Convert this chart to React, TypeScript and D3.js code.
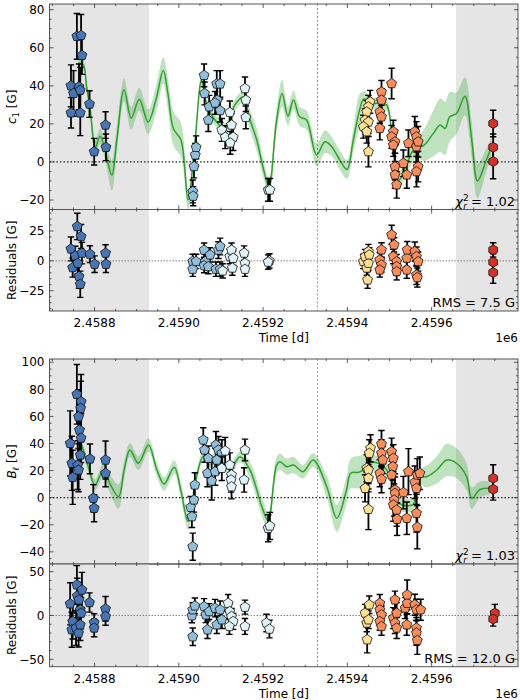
import React from 'react';
import * as d3 from 'd3';

type Pt = [number, number, number]; // [time (JD), value, error]
type CurvePt = [number, number, number]; // [time, mean, half-width]

// ---- axis setup ----
const T_MIN = 2458693;
const T_MAX = 2459805;
const SPAN_LEFT = [2458693, 2458929];
const SPAN_RIGHT = [2459658, 2459805];
const V_LINE = 2459329;
const X_TICKS = [2458800, 2459000, 2459200, 2459400, 2459600];

const COLORS = ['#4575b4', '#91bfdb', '#e0f3f8', '#fee090', '#fc8d59', '#d73027'];
const SHAPES = ['pent', 'pent', 'pent', 'pent', 'pent', 'hex'];

// ---- c1 ----
const c1Dark: Pt[] = [
  [2458744, 40, 11], [2458750, 36, 12], [2458763, 39.5, 12], [2458766, 37.7, 12],
  [2458758, 66, 12], [2458768, 66.5, 11], [2458770, 56, 10],
  [2458744, 25.8, 8], [2458766, 25.8, 12], [2458788, 30.4, 7],
  [2458799, 5.4, 7], [2458826, 19.4, 7], [2458827, 7.7, 7],
];
const c1Light: Pt[] = [
  [2459033, -15.5, 6], [2459034, -18, 5], [2459036, -2.4, 6], [2459039, 3.7, 6], [2459041, 7.7, 6],
  [2459060, 45.5, 6], [2459061, 36, 6], [2459072, 29, 6], [2459070, 22, 6],
  [2459090, 41, 7], [2459098, 41, 7], [2459091, 32.5, 7], [2459086, 31, 6], [2459098, 27, 6],
];
const c1Pale: Pt[] = [
  [2459102, 16.8, 6], [2459110, 13, 6], [2459121, 26, 6], [2459125, 19.4, 6], [2459129, 13, 7],
  [2459122, 10, 6], [2459157, 38.6, 6], [2459159, 32.5, 6], [2459159, 23.4, 6],
  [2459212, -14.7, 6], [2459216, -14.7, 6],
];
const c1Yellow: Pt[] = [
  [2459454, 31.6, 6], [2459450, 29, 6], [2459446, 26.3, 6], [2459442, 22, 6],
  [2459450, 21, 6], [2459438, 18.5, 6], [2459446, 15.9, 6], [2459450, 5.4, 8],
];
const c1Orange: Pt[] = [
  [2459481, 36.8, 6], [2459481, 32.5, 6], [2459477, 26.3, 6], [2459481, 23.7, 6], [2459477, 17.6, 6],
  [2459505, 41.2, 8], [2459509, 15.9, 6], [2459505, 13.2, 6], [2459513, 10.6, 6], [2459509, 8.9, 6],
  [2459513, -2.5, 7], [2459513, -6.8, 7], [2459517, -12, 7], [2459533, -0.7, 7], [2459541, -6.8, 7],
  [2459545, 9.8, 7], [2459560, 15.9, 8], [2459564, 13.2, 8], [2459564, 8, 8], [2459568, -2.5, 8],
  [2459564, -5.1, 8], [2459568, 10.6, 8],
];
const c1Red: Pt[] = [[2459746, 20.2, 7], [2459746, 7.7, 7], [2459746, 0.2, 9]];

const c1Model: CurvePt[] = [
  [2458761, 52, 3], [2458773, 51, 3], [2458781, 39.4, 3], [2458789, 29, 3], [2458797, 11.5, 4],
  [2458801, 7, 4], [2458813, 13.5, 4], [2458825, 6, 5], [2458841, -7, 8], [2458853, 12, 7],
  [2458870, 38, 6], [2458887, 23, 6], [2458906, 33, 6], [2458927, 21, 6.5], [2458946, 33, 7],
  [2458963, 48, 7], [2458974, 36, 8], [2458987, 17.6, 9], [2459005, 11.5, 9], [2459022, -20, 5],
  [2459038, 10, 3], [2459054, 43, 3], [2459066, 30, 3], [2459086, 22, 3], [2459110, 17.6, 3],
  [2459133, 30, 3], [2459152, 34, 3], [2459169, 22, 5], [2459185, 11.5, 6], [2459200, -3, 5],
  [2459214, -13, 4], [2459231, 20, 6], [2459245, 36, 7], [2459259, 24, 5], [2459272, 32.5, 5],
  [2459287, 23.7, 5], [2459303, 22, 5], [2459327, 3.7, 6], [2459347, 10.6, 6], [2459363, 8, 5],
  [2459382, 1, 5], [2459399, -4, 5], [2459414, 11.5, 6], [2459430, 28, 8], [2459439, 33, 4],
  [2459461, 30.7, 3], [2459477, 31, 3], [2459493, 30, 3], [2459505, 15, 3], [2459513, -2, 3],
  [2459521, -10, 4], [2459541, -1, 5], [2459553, 5, 6], [2459564, 8, 5], [2459580, 8.5, 8],
  [2459604, 15, 12], [2459620, 19.4, 14], [2459632, 17.6, 14], [2459643, 23.7, 13], [2459659, 25.5, 11],
  [2459679, 34.5, 10], [2459695, 12, 9], [2459709, -10, 9], [2459730, 1, 6], [2459742, 8, 5],
];

// ---- c1 residuals ----
const r1Dark: Pt[] = [
  [2458744, 10, 10], [2458748, -5.6, 8], [2458754, 4.2, 8], [2458759, 28.8, 11], [2458760, -2, 9],
  [2458763, -13, 10], [2458766, -19.6, 11], [2458768, 20.4, 10], [2458770, 6.5, 9], [2458789, 5.6, 7],
  [2458800, -2.8, 7], [2458826, 6.5, 7], [2458827, -2.8, 7],
];
const r1Light: Pt[] = [
  [2459033, -0.5, 6], [2459033, -7, 6], [2459041, -0.5, 6], [2459060, 9, 6], [2459063, -0.5, 6],
  [2459060, -4, 6], [2459074, 5, 6], [2459070, -4.8, 6], [2459094, 9, 7], [2459098, 12, 7],
  [2459088, -7, 6], [2459098, -7, 6],
];
const r1Pale: Pt[] = [
  [2459104, -8.4, 6], [2459121, 3.6, 6], [2459125, 9, 6], [2459127, -6, 6], [2459129, 2.2, 6],
  [2459155, 6.5, 6], [2459157, -2, 6], [2459157, -7, 6], [2459215, 0, 6], [2459212, -1, 6],
];
const r1Yellow: Pt[] = [
  [2459438, -0.5, 6], [2459442, 3.6, 6], [2459450, 7.8, 6], [2459446, -6, 6], [2459450, -2, 6],
  [2459448, -16, 7], [2459452, 5, 6],
];
const r1Orange: Pt[] = [
  [2459481, 9.2, 6], [2459477, 0.8, 6], [2459481, -3.4, 6], [2459477, -7.6, 6], [2459505, 21.8, 8],
  [2459511, 13.4, 6], [2459509, 3.6, 6], [2459517, -0.6, 6], [2459517, -4.8, 7], [2459517, -9, 7],
  [2459541, 2.3, 7], [2459542, 9.2, 7], [2459541, -7.6, 7], [2459560, 7.8, 8], [2459564, 3.6, 8],
  [2459568, -0.6, 8], [2459564, -11.8, 8], [2459566, -14, 8],
];
const r1Red: Pt[] = [[2459746, 9.2, 6], [2459746, -1.1, 7], [2459746, -9.8, 9]];

// ---- B_l ----
const blDark: Pt[] = [
  [2458758, 76.3, 22], [2458768, 70.9, 20], [2458767, 66, 20], [2458762, 59.8, 20], [2458764, 50, 20],
  [2458768, 44, 18], [2458742, 40.1, 24], [2458746, 25.4, 20], [2458760, 24, 18], [2458762, 20.4, 16],
  [2458766, 31.5, 18], [2458748, 15, 20], [2458789, 28.6, 11], [2458797, -0.4, 10], [2458799, -7.8, 10],
  [2458826, 27.8, 14], [2458826, 18, 10],
];
const blLight: Pt[] = [
  [2459033, -36.2, 10], [2459031, -14, 8], [2459028, -7.1, 8], [2459036, -1.7, 9], [2459038, 9.4, 9],
  [2459058, 42.6, 9], [2459061, 35.2, 9], [2459070, 29.1, 9], [2459068, 18, 10], [2459078, 12.3, 14],
  [2459088, 38.9, 10], [2459094, 35.2, 10], [2459102, 32.8, 10], [2459090, 27.8, 10], [2459086, 19.2, 10],
];
const blPale: Pt[] = [
  [2459110, 34.5, 10], [2459102, 21.7, 9], [2459121, 24.1, 9], [2459125, 16.8, 9], [2459124, 13.1, 9],
  [2459125, 8.1, 9], [2459157, 35.2, 8], [2459155, 13.1, 9], [2459212, -22.6, 10], [2459216, -20.9, 10],
];
const blYellow: Pt[] = [
  [2459455, 36.5, 10], [2459452, 32.8, 10], [2459446, 21.7, 10], [2459450, 20.4, 10],
  [2459450, 14.3, 10], [2459442, 6.9, 10], [2459450, -8.6, 15],
];
const blOrange: Pt[] = [
  [2459481, 39.6, 10], [2459481, 32.8, 10], [2459484, 27.8, 10], [2459477, 18, 10], [2459481, 13.6, 10],
  [2459505, 34, 10], [2459509, 29.1, 10], [2459508, 22.9, 10], [2459505, 16.8, 10], [2459513, 5.7, 12],
  [2459513, 3.2, 12], [2459511, -1.7, 12], [2459509, -5.4, 12], [2459517, -9.1, 12], [2459518, -15.9, 12],
  [2459533, 3.7, 12], [2459541, -15.2, 12], [2459545, 19.2, 17], [2459560, 11.4, 12], [2459566, 16.8, 12],
  [2459572, 18, 12], [2459564, 6.9, 12], [2459564, -11.5, 14], [2459566, -21.8, 16],
];
const blRed: Pt[] = [[2459746, 14.3, 10], [2459746, 6.2, 8]];

const blModel: CurvePt[] = [
  [2458766, 42.6, 4], [2458785, 23, 4], [2458801, 9.4, 4], [2458821, 20.4, 5], [2458837, 10, 7],
  [2458857, 0.7, 9], [2458870, 20, 7], [2458884, 35.2, 5], [2458904, 25.4, 5], [2458928, 38.9, 5],
  [2458948, 20.4, 5], [2458965, 10.1, 5], [2458989, 22.4, 5], [2459005, 5, 6], [2459022, -17.7, 6],
  [2459042, 15.5, 4], [2459058, 30.3, 4], [2459074, 27, 4], [2459090, 30.3, 4], [2459105, 26, 4],
  [2459121, 20.4, 4], [2459145, 30.3, 4], [2459169, 20.4, 6], [2459197, -6.6, 7], [2459212, -17, 6],
  [2459232, 24, 6], [2459240, 26.6, 6], [2459256, 22.9, 6], [2459272, 24.1, 6], [2459295, 19.2, 5],
  [2459319, 27.8, 5], [2459351, 8.1, 8], [2459375, -15.2, 10], [2459398, 5.7, 10], [2459408, 18, 11],
  [2459430, 19, 12], [2459458, 26, 6], [2459489, 22, 5], [2459508, 12, 5], [2459522, -4, 5],
  [2459556, -5, 5], [2459567, 15.5, 5], [2459588, 15.5, 8], [2459612, 20.4, 10], [2459636, 27.8, 12],
  [2459659, 25.4, 11], [2459683, 15.5, 10], [2459695, -0.4, 8], [2459715, 6, 6], [2459738, 6.9, 5],
];

// ---- B_l residuals ----
const r2Dark: Pt[] = [
  [2458742, 13.3, 24], [2458748, -6.8, 20], [2458746, -16.3, 20], [2458758, 34.9, 22], [2458759, 22.4, 20],
  [2458763, 17.8, 20], [2458766, 6.5, 18], [2458770, 29.2, 20], [2458768, 2.7, 18], [2458756, -14.3, 20],
  [2458762, -20, 16], [2458766, -10.6, 18], [2458788, 14.8, 11], [2458799, -8, 10], [2458799, -14.3, 10],
  [2458826, 7.6, 14], [2458826, -1.1, 10],
];
const r2Light: Pt[] = [
  [2459033, -24.2, 10], [2459031, -0.3, 8], [2459033, 6.5, 8], [2459038, 11, 9], [2459060, 10.2, 9],
  [2459064, 0.8, 9], [2459068, -16.3, 10], [2459072, 4.5, 9], [2459086, 8.4, 10], [2459090, -10.6, 10],
  [2459098, 6.5, 10], [2459102, -4.9, 10],
];
const r2Pale: Pt[] = [
  [2459117, 14, 10], [2459121, 4.5, 9], [2459125, -1.1, 9], [2459129, -6.8, 9], [2459120, -12.5, 9],
  [2459157, 9.5, 8], [2459157, -12.5, 9], [2459208, -8.6, 10], [2459215, -15.5, 10],
];
const r2Yellow: Pt[] = [
  [2459442, 2.7, 10], [2459452, 12.2, 10], [2459446, -8.6, 10], [2459450, -4.9, 10], [2459447, -27.6, 15],
];
const r2Orange: Pt[] = [
  [2459477, 14, 10], [2459477, 6.5, 10], [2459481, 0.8, 10], [2459477, -6.8, 10], [2459481, -12.5, 10],
  [2459513, 17.8, 10], [2459509, -3, 12], [2459517, 2.7, 12], [2459513, -8.6, 12], [2459517, -14.3, 12],
  [2459537, 8.4, 12], [2459542, 14, 12], [2459541, -10.6, 12], [2459542, 23.5, 17], [2459560, 12.2, 12],
  [2459564, 6.5, 12], [2459574, 6.5, 12], [2459564, -14.3, 12], [2459564, -20, 14], [2459566, -28.4, 16],
];
const r2Red: Pt[] = [[2459750, 2.7, 10], [2459746, -4.1, 8]];

// ---- layout ----
const W = 520;
const H = 700;
const L = 49.5;
const R = 518;
const FONT = 'DejaVu Sans, sans-serif';

function polygon(n: number, r: number) {
  const pts = d3.range(n).map(i => {
    const a = -Math.PI / 2 + (i * 2 * Math.PI) / n;
    return [r * Math.cos(a), r * Math.sin(a)];
  });
  return 'M' + pts.map(p => p[0].toFixed(2) + ',' + p[1].toFixed(2)).join('L') + 'Z';
}
const PENT = polygon(5, 5.2);
const HEX = polygon(6, 5);

const fmt = (d: number) => (d < 0 ? '\u2212' + Math.abs(d) : String(d));

function Panel(props: any) {
  const { id, top, bottom, yDomain, yTicks, yMinor, series, model, residual, xLabels, ylabel, note } = props;
  const x = d3.scaleLinear().domain([T_MIN, T_MAX]).range([L, R]);
  const y = d3.scaleLinear().domain(yDomain).range([bottom, top]);

  const area = d3.area<CurvePt>()
    .x(d => x(d[0]))
    .y0(d => y(d[1] - d[2]))
    .y1(d => y(d[1] + d[2]))
    .curve(d3.curveCatmullRom.alpha(0.5));
  const line = d3.line<CurvePt>()
    .x(d => x(d[0]))
    .y(d => y(d[1]))
    .curve(d3.curveCatmullRom.alpha(0.5));

  const xMinor = d3.range(Math.ceil(T_MIN / 50) * 50, T_MAX, 50).filter(t => t % 200 !== 0);
  const yMinorTicks = d3.range(Math.ceil(yDomain[0] / yMinor) * yMinor, yDomain[1], yMinor)
    .filter(v => !yTicks.includes(v));

  const tickColor = '#333';
  const midY = (top + bottom) / 2;

  return (
    <g>
      <defs>
        <clipPath id={id}>
          <rect x={L} y={top} width={R - L} height={bottom - top} />
        </clipPath>
      </defs>
      <g clipPath={`url(#${id})`}>
        <rect x={x(SPAN_LEFT[0])} y={top} width={x(SPAN_LEFT[1]) - x(SPAN_LEFT[0])} height={bottom - top} fill="#e5e5e5" />
        <rect x={x(SPAN_RIGHT[0])} y={top} width={x(SPAN_RIGHT[1]) - x(SPAN_RIGHT[0])} height={bottom - top} fill="#e5e5e5" />
        <line x1={x(V_LINE)} x2={x(V_LINE)} y1={top} y2={bottom} stroke="#999" strokeWidth={1} strokeDasharray="2,2" />
        {model && (
          <g>
            <path d={area(model) || ''} fill="#2ca02c" fillOpacity={0.3} />
            <path d={line(model) || ''} fill="none" stroke="#2ca02c" strokeWidth={1.5} />
          </g>
        )}
        <line x1={L} x2={R} y1={y(0)} y2={y(0)}
          stroke={residual ? '#777' : '#222'} strokeWidth={residual ? 0.9 : 1.2}
          strokeDasharray={residual ? '1.5,1.5' : '1.5,2'} />
        {series.map((s: Pt[], si: number) => (
          <g key={si}>
            {s.map((p, i) => {
              const cx = x(p[0]);
              const y1 = y(p[1] + p[2]);
              const y2 = y(p[1] - p[2]);
              return (
                <g key={i} stroke="#000" strokeWidth={1.8}>
                  <line x1={cx} x2={cx} y1={y1} y2={y2} />
                  <line x1={cx - 3.2} x2={cx + 3.2} y1={y1} y2={y1} strokeWidth={1.4} />
                  <line x1={cx - 3.2} x2={cx + 3.2} y1={y2} y2={y2} strokeWidth={1.4} />
                </g>
              );
            })}
            {s.map((p, i) => (
              <path key={'m' + i} d={SHAPES[si] === 'hex' ? HEX : PENT}
                transform={`translate(${x(p[0])},${y(p[1])})`}
                fill={COLORS[si]} stroke="#111" strokeWidth={0.8} />
            ))}
          </g>
        ))}
      </g>
      {/* frame */}
      <rect x={L} y={top} width={R - L} height={bottom - top} fill="none" stroke="#555" strokeWidth={1} />
      {/* ticks */}
      <g stroke={tickColor} strokeWidth={0.8}>
        {X_TICKS.map(t => (
          <g key={t}>
            <line x1={x(t)} x2={x(t)} y1={bottom} y2={bottom - 4} />
            <line x1={x(t)} x2={x(t)} y1={top} y2={top + 4} />
          </g>
        ))}
        {xMinor.map(t => (
          <g key={'n' + t}>
            <line x1={x(t)} x2={x(t)} y1={bottom} y2={bottom - 2} />
            <line x1={x(t)} x2={x(t)} y1={top} y2={top + 2} />
          </g>
        ))}
        {yTicks.map((v: number) => (
          <g key={v}>
            <line x1={L} x2={L + 4} y1={y(v)} y2={y(v)} />
            <line x1={R} x2={R - 4} y1={y(v)} y2={y(v)} />
          </g>
        ))}
        {yMinorTicks.map((v: number) => (
          <g key={'m' + v}>
            <line x1={L} x2={L + 2} y1={y(v)} y2={y(v)} />
            <line x1={R} x2={R - 2} y1={y(v)} y2={y(v)} />
          </g>
        ))}
      </g>
      <g fontFamily={FONT} fontSize={12} fill="#000">
        {yTicks.map((v: number) => (
          <text key={v} x={L - 5} y={y(v)} dy="0.35em" textAnchor="end">{fmt(v)}</text>
        ))}
        {xLabels && X_TICKS.map(t => (
          <text key={t} x={x(t)} y={bottom + 16} textAnchor="middle">{(t / 1e6).toFixed(4)}</text>
        ))}
        {xLabels && (
          <g>
            <text x={(L + R) / 2} y={bottom + 31} textAnchor="middle">Time [d]</text>
            <text x={R} y={bottom + 31} textAnchor="end">1e6</text>
          </g>
        )}
        <text transform={`translate(16,${midY}) rotate(-90)`} textAnchor="middle">{ylabel}</text>
      </g>
      <g fontFamily={FONT} fontSize={13} fill="#000">
        <text x={R - 3} y={bottom - 4} textAnchor="end">{note}</text>
      </g>
    </g>
  );
}

export default function App() {
  const c1Label = (
    <>
      <tspan fontStyle="italic">c</tspan>
      <tspan fontSize={8.5} dy={3}>1</tspan>
      <tspan dy={-3}> [G]</tspan>
    </>
  );
  const blLabel = (
    <>
      <tspan fontStyle="italic">B</tspan>
      <tspan fontSize={8.5} fontStyle="italic" dy={3}>ℓ</tspan>
      <tspan dy={-3}> [G]</tspan>
    </>
  );
  const chi = (val: string) => (
    <>
      <tspan fontStyle="italic">χ</tspan>
      <tspan fontSize={9} dy={-5}>2</tspan>
      <tspan fontSize={9} fontStyle="italic" dx={-5.5} dy={8}>r</tspan>
      <tspan dy={-3}>{' = ' + val}</tspan>
    </>
  );

  return (
    <svg width={W} height={H} style={{ position: 'absolute', left: 0, top: 0, background: '#fff' }}>
      <Panel id="p1" top={4} bottom={209.5} yDomain={[-25, 83]} yTicks={[-20, 0, 20, 40, 60, 80]} yMinor={5}
        series={[c1Dark, c1Light, c1Pale, c1Yellow, c1Orange, c1Red]} model={c1Model}
        ylabel={c1Label} note={chi('1.02')} />
      <Panel id="p2" top={209.5} bottom={311} yDomain={[-42, 43]} yTicks={[-25, 0, 25]} yMinor={5}
        series={[r1Dark, r1Light, r1Pale, r1Yellow, r1Orange, r1Red]} residual xLabels
        ylabel="Residuals [G]" note="RMS = 7.5 G" />
      <Panel id="p3" top={359} bottom={564} yDomain={[-49, 102.4]} yTicks={[-40, -20, 0, 20, 40, 60, 80, 100]} yMinor={5}
        series={[blDark, blLight, blPale, blYellow, blOrange, blRed]} model={blModel}
        ylabel={blLabel} note={chi('1.03')} />
      <Panel id="p4" top={564} bottom={666.7} yDomain={[-58.4, 58.7]} yTicks={[-50, 0, 50]} yMinor={10}
        series={[r2Dark, r2Light, r2Pale, r2Yellow, r2Orange, r2Red]} residual xLabels
        ylabel="Residuals [G]" note="RMS = 12.0 G" />
    </svg>
  );
}
